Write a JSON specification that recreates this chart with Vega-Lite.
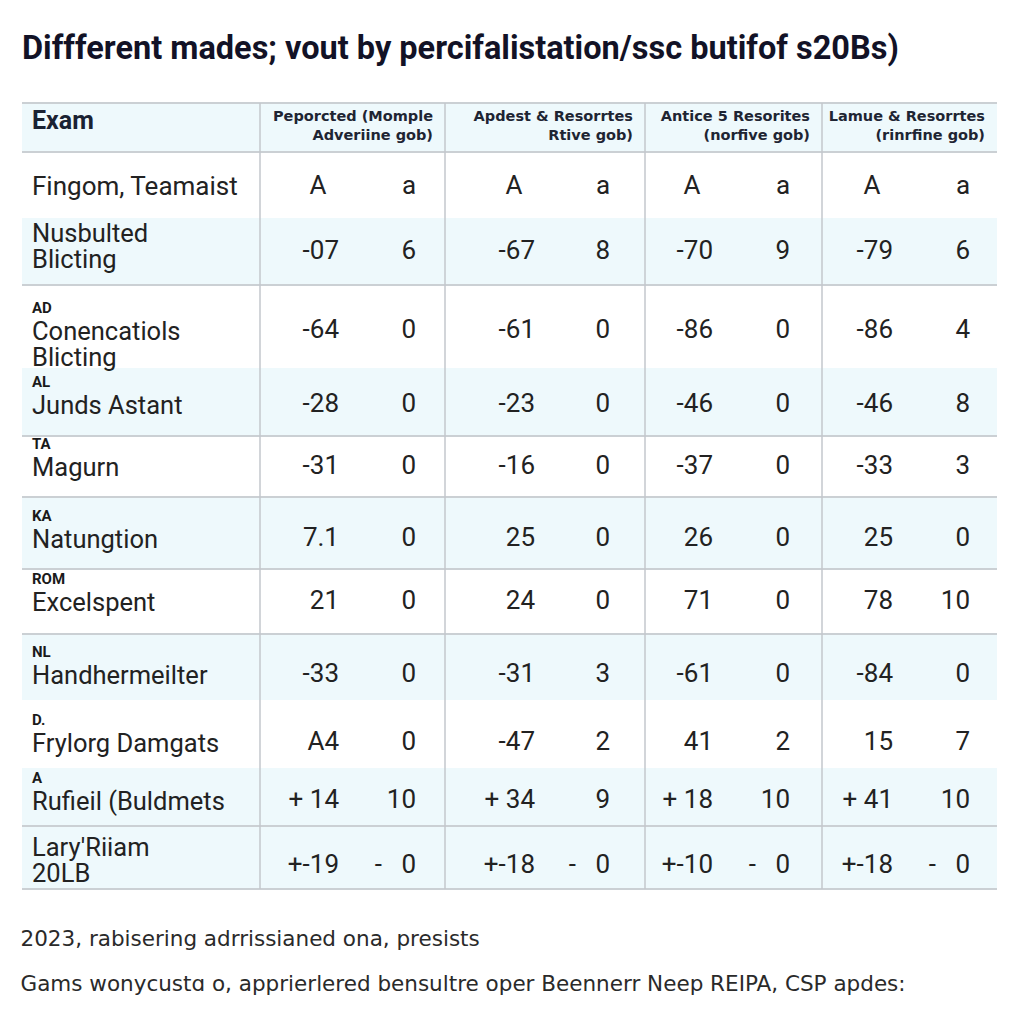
{
  "$schema": "https://vega.github.io/schema/vega-lite/v6.json",
  "width": 1024,
  "height": 786,
  "autosize": {"type": "none"},
  "padding": {"left": 0, "right": 0, "top": 103, "bottom": 135},
  "background": "white",
  "title": {
    "text": "Diffferent mades; vout by percifalistation/ssc butifof s20Bs)",
    "anchor": "start",
    "dx": 22,
    "offset": 37,
    "font": "Roboto",
    "fontSize": 32.5,
    "fontWeight": "bold",
    "color": "#121226"
  },
  "config": {
    "view": {"stroke": null},
    "axisX": {"labels": false, "ticks": false, "domain": false, "grid": false},
    "axisY": {"disable": true}
  },
  "datasets": {
    "stripes": [
      {"r": -0.5, "r2": 0.5, "c": -0.5, "c2": 8.5},
      {"r": 1.5, "r2": 2.5, "c": -0.5, "c2": 8.5},
      {"r": 3.5, "r2": 4.5, "c": -0.5, "c2": 8.5},
      {"r": 5.5, "r2": 6.5, "c": -0.5, "c2": 8.5},
      {"r": 7.5, "r2": 8.5, "c": -0.5, "c2": 8.5},
      {"r": 9.5, "r2": 10.5, "c": -0.5, "c2": 8.5},
      {"r": 10.5, "r2": 11.5, "c": -0.5, "c2": 8.5}
    ],
    "hlines": [
      {"r": -0.5, "c": -0.5, "c2": 8.5}, {"r": 0.5, "c": -0.5, "c2": 8.5},
      {"r": 2.5, "c": -0.5, "c2": 8.5}, {"r": 4.5, "c": -0.5, "c2": 8.5},
      {"r": 5.5, "c": -0.5, "c2": 8.5}, {"r": 6.5, "c": -0.5, "c2": 8.5},
      {"r": 7.5, "c": -0.5, "c2": 8.5}, {"r": 10.5, "c": -0.5, "c2": 8.5},
      {"r": 11.5, "c": -0.5, "c2": 8.5}
    ],
    "vlines": [
      {"c": 0.5, "r": -0.5, "r2": 11.5}, {"c": 2.5, "r": -0.5, "r2": 11.5},
      {"c": 4.5, "r": -0.5, "r2": 11.5}, {"c": 6.5, "r": -0.5, "r2": 11.5}
    ],
    "exam": [{"r": 0, "c": 0, "t": "Exam"}],
    "groups": [
      {"r": 0, "c": 2.5, "t": "Peporcted (Momple\nAdveriine gob)"},
      {"r": 0, "c": 4.5, "t": "Apdest & Resorrtes\nRtive gob)"},
      {"r": 0, "c": 6.5, "t": "Antice 5 Resorites\n(norfive gob)"},
      {"r": 0, "c": 8.5, "t": "Lamue & Resorrtes\n(rinrfine gob)"}
    ],
    "labels": [
      {"r": 1, "c": 0, "code": "", "name": "Fingom, Teamaist"},
      {"r": 2, "c": 0, "code": "", "name": "Nusbulted\nBlicting"},
      {"r": 3, "c": 0, "code": "AD", "name": "Conencatiols\nBlicting"},
      {"r": 4, "c": 0, "code": "AL", "name": "Junds Astant"},
      {"r": 5, "c": 0, "code": "TA", "name": "Magurn"},
      {"r": 6, "c": 0, "code": "KA", "name": "Natungtion"},
      {"r": 7, "c": 0, "code": "ROM", "name": "Excelspent"},
      {"r": 8, "c": 0, "code": "NL", "name": "Handhermeilter"},
      {"r": 9, "c": 0, "code": "D.", "name": "Frylorg Damgats"},
      {"r": 10, "c": 0, "code": "A", "name": "Rufieil (Buldmets"},
      {"r": 11, "c": 0, "code": "", "name": "Lary'Riiam\n20LB"}
    ],
    "cells": [
      {"r": 1, "c": 1, "t": "A"}, {"r": 1, "c": 2, "t": "a"}, {"r": 1, "c": 3, "t": "A"}, {"r": 1, "c": 4, "t": "a"},
      {"r": 1, "c": 5, "t": "A"}, {"r": 1, "c": 6, "t": "a"}, {"r": 1, "c": 7, "t": "A"}, {"r": 1, "c": 8, "t": "a"},
      {"r": 2, "c": 1, "t": "-07"}, {"r": 2, "c": 2, "t": "6"}, {"r": 2, "c": 3, "t": "-67"}, {"r": 2, "c": 4, "t": "8"},
      {"r": 2, "c": 5, "t": "-70"}, {"r": 2, "c": 6, "t": "9"}, {"r": 2, "c": 7, "t": "-79"}, {"r": 2, "c": 8, "t": "6"},
      {"r": 3, "c": 1, "t": "-64"}, {"r": 3, "c": 2, "t": "0"}, {"r": 3, "c": 3, "t": "-61"}, {"r": 3, "c": 4, "t": "0"},
      {"r": 3, "c": 5, "t": "-86"}, {"r": 3, "c": 6, "t": "0"}, {"r": 3, "c": 7, "t": "-86"}, {"r": 3, "c": 8, "t": "4"},
      {"r": 4, "c": 1, "t": "-28"}, {"r": 4, "c": 2, "t": "0"}, {"r": 4, "c": 3, "t": "-23"}, {"r": 4, "c": 4, "t": "0"},
      {"r": 4, "c": 5, "t": "-46"}, {"r": 4, "c": 6, "t": "0"}, {"r": 4, "c": 7, "t": "-46"}, {"r": 4, "c": 8, "t": "8"},
      {"r": 5, "c": 1, "t": "-31"}, {"r": 5, "c": 2, "t": "0"}, {"r": 5, "c": 3, "t": "-16"}, {"r": 5, "c": 4, "t": "0"},
      {"r": 5, "c": 5, "t": "-37"}, {"r": 5, "c": 6, "t": "0"}, {"r": 5, "c": 7, "t": "-33"}, {"r": 5, "c": 8, "t": "3"},
      {"r": 6, "c": 1, "t": "7.1"}, {"r": 6, "c": 2, "t": "0"}, {"r": 6, "c": 3, "t": "25"}, {"r": 6, "c": 4, "t": "0"},
      {"r": 6, "c": 5, "t": "26"}, {"r": 6, "c": 6, "t": "0"}, {"r": 6, "c": 7, "t": "25"}, {"r": 6, "c": 8, "t": "0"},
      {"r": 7, "c": 1, "t": "21"}, {"r": 7, "c": 2, "t": "0"}, {"r": 7, "c": 3, "t": "24"}, {"r": 7, "c": 4, "t": "0"},
      {"r": 7, "c": 5, "t": "71"}, {"r": 7, "c": 6, "t": "0"}, {"r": 7, "c": 7, "t": "78"}, {"r": 7, "c": 8, "t": "10"},
      {"r": 8, "c": 1, "t": "-33"}, {"r": 8, "c": 2, "t": "0"}, {"r": 8, "c": 3, "t": "-31"}, {"r": 8, "c": 4, "t": "3"},
      {"r": 8, "c": 5, "t": "-61"}, {"r": 8, "c": 6, "t": "0"}, {"r": 8, "c": 7, "t": "-84"}, {"r": 8, "c": 8, "t": "0"},
      {"r": 9, "c": 1, "t": "A4"}, {"r": 9, "c": 2, "t": "0"}, {"r": 9, "c": 3, "t": "-47"}, {"r": 9, "c": 4, "t": "2"},
      {"r": 9, "c": 5, "t": "41"}, {"r": 9, "c": 6, "t": "2"}, {"r": 9, "c": 7, "t": "15"}, {"r": 9, "c": 8, "t": "7"},
      {"r": 10, "c": 1, "t": "+ 14"}, {"r": 10, "c": 2, "t": "10"}, {"r": 10, "c": 3, "t": "+ 34"}, {"r": 10, "c": 4, "t": "9"},
      {"r": 10, "c": 5, "t": "+ 18"}, {"r": 10, "c": 6, "t": "10"}, {"r": 10, "c": 7, "t": "+ 41"}, {"r": 10, "c": 8, "t": "10"},
      {"r": 11, "c": 1, "t": "+-19"}, {"r": 11, "c": 2, "t": "-\u00a0\u00a0\u00a00"}, {"r": 11, "c": 3, "t": "+-18"}, {"r": 11, "c": 4, "t": "-\u00a0\u00a0\u00a00"},
      {"r": 11, "c": 5, "t": "+-10"}, {"r": 11, "c": 6, "t": "-\u00a0\u00a0\u00a00"}, {"r": 11, "c": 7, "t": "+-18"}, {"r": 11, "c": 8, "t": "-\u00a0\u00a0\u00a00"}
    ]
  },
  "encoding": {
    "x": {
      "field": "c",
      "type": "quantitative",
      "scale": {
        "domain": [-0.5, 0, 0.5, 1, 2, 2.5, 3, 4, 4.5, 5, 6, 6.5, 7, 8, 8.5],
        "range": [22, 32, 260, 339, 416, 445, 535, 610, 645, 713, 790, 822, 893, 970, 997],
        "zero": false,
        "nice": false
      },
      "axis": {
        "title": ["2023, rabisering adrrissianed ona, presists", "Gams wonycustɑ o, apprierlered bensultre oper Beennerr Neep REIPA, CSP apdes:"],
        "titleX": 20,
        "titleY": 56,
        "titleAlign": "left",
        "titleBaseline": "alphabetic",
        "titleLineHeight": 45,
        "titleFont": "DejaVu Sans",
        "titleFontSize": 21.5,
        "titleFontWeight": "normal",
        "titleColor": "#2a2a2a"
      }
    },
    "y": {
      "field": "r",
      "type": "quantitative",
      "scale": {
        "domain": [-0.5, 0, 0.5, 1, 1.5, 2, 2.5, 3, 3.5, 4, 4.5, 5, 5.5, 6, 6.5, 7, 7.5, 8, 8.5, 9, 9.5, 10, 10.5, 11, 11.5],
        "range": [0, 24, 49, 83, 115, 148, 182, 227, 265, 301, 333, 363, 394, 435, 466, 498, 531, 571, 597, 639, 665, 697, 723, 762, 786],
        "zero": false,
        "nice": false
      },
      "axis": null
    }
  },
  "layer": [
    {
      "data": {"name": "stripes"},
      "mark": {"type": "rect", "color": "#eef9fc"},
      "encoding": {
        "x2": {"field": "c2"},
        "y2": {"field": "r2"}
      }
    },
    {
      "data": {"name": "hlines"},
      "mark": {"type": "rule", "color": "#cbd0d4", "strokeWidth": 2},
      "encoding": {
        "x2": {"field": "c2"}
      }
    },
    {
      "data": {"name": "vlines"},
      "mark": {"type": "rule", "color": "#c3c7cc", "strokeWidth": 1.5},
      "encoding": {
        "y2": {"field": "r2"}
      }
    },
    {
      "data": {"name": "exam"},
      "mark": {"type": "text", "align": "left", "baseline": "middle", "dy": -6, "font": "Roboto", "fontSize": 25, "fontWeight": "bold", "color": "#1a2233"},
      "encoding": {"text": {"field": "t"}}
    },
    {
      "data": {"name": "groups"},
      "mark": {"type": "text", "align": "right", "baseline": "middle", "dx": -12, "dy": -10, "lineBreak": "\n", "lineHeight": 19, "font": "DejaVu Sans", "fontSize": 14.5, "fontWeight": "bold", "color": "#1e2533"},
      "encoding": {"text": {"field": "t"}}
    },
    {
      "data": {"name": "labels"},
      "transform": [{"filter": "datum.code == '' && indexof(datum.name, '\\n') < 0"}],
      "mark": {"type": "text", "align": "left", "baseline": "middle", "dy": 1, "font": "Roboto", "fontSize": 26, "color": "#222222"},
      "encoding": {"text": {"field": "name"}}
    },
    {
      "data": {"name": "labels"},
      "transform": [{"filter": "datum.code == '' && indexof(datum.name, '\\n') >= 0"}],
      "mark": {"type": "text", "align": "left", "baseline": "middle", "dy": -17, "lineBreak": "\n", "lineHeight": 26, "font": "Roboto", "fontSize": 25.5, "color": "#222222"},
      "encoding": {"text": {"field": "name"}}
    },
    {
      "data": {"name": "labels"},
      "transform": [{"filter": "datum.code != ''"}],
      "mark": {"type": "text", "align": "left", "baseline": "alphabetic", "dy": 10, "lineBreak": "\n", "lineHeight": 26, "font": "Roboto", "fontSize": 25.5, "color": "#222222"},
      "encoding": {"text": {"field": "name"}}
    },
    {
      "data": {"name": "labels"},
      "transform": [{"filter": "datum.code != ''"}],
      "mark": {"type": "text", "align": "left", "baseline": "middle", "dy": -22, "font": "Roboto", "fontSize": 15, "fontWeight": "bold", "color": "#1a1a1a"},
      "encoding": {"text": {"field": "code"}}
    },
    {
      "data": {"name": "cells"},
      "transform": [{"filter": "datum.t == 'A'"}],
      "mark": {"type": "text", "align": "center", "baseline": "middle", "dx": -21, "font": "Roboto", "fontSize": 26, "color": "#222222"},
      "encoding": {"text": {"field": "t"}}
    },
    {
      "data": {"name": "cells"},
      "transform": [{"filter": "datum.t == 'a'"}],
      "mark": {"type": "text", "align": "center", "baseline": "middle", "dx": -7, "font": "Roboto", "fontSize": 26, "color": "#222222"},
      "encoding": {"text": {"field": "t"}}
    },
    {
      "data": {"name": "cells"},
      "transform": [{"filter": "datum.t != 'A' && datum.t != 'a'"}],
      "mark": {"type": "text", "align": "right", "baseline": "middle", "font": "Roboto", "fontSize": 26, "color": "#222222"},
      "encoding": {"text": {"field": "t"}}
    }
  ]
}
